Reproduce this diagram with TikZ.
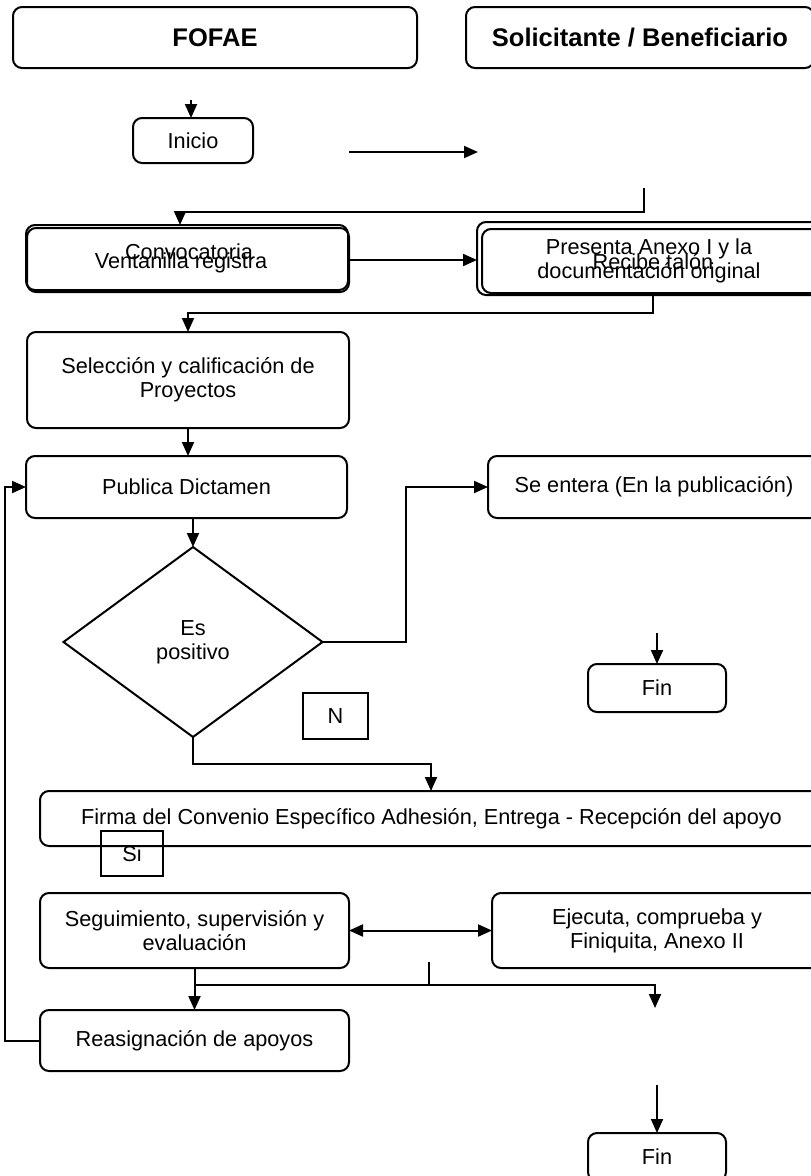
\documentclass[tikz,border=0pt]{standalone}
\usepackage{fontspec}
\setmainfont{Liberation Sans}
\usetikzlibrary{arrows.meta,shapes.geometric}

\newcommand\flowFont{\fontsize{21.7}{24}\selectfont}
\newcommand\laneFont{\fontsize{25.5}{29}\selectfont\bfseries}

\tikzset{
    >={Triangle[length=14pt,width=12pt]},
    box/.style={draw, line width=2pt, rounded corners=9pt, align=center,
        inner sep=0pt, outer sep=0pt, font=\flowFont},
    lane/.style={box, font=\laneFont},
    tag/.style={draw, line width=1.7pt, inner sep=0pt, outer sep=0pt, font=\flowFont},
    txt/.style={inner sep=0pt, align=center, font=\flowFont},
    flow/.style={line width=2pt, ->},
    link/.style={line width=2pt}
}

\begin{document}
\begin{tikzpicture}[x=1pt, y=-1pt]
    \clip (0,0) rectangle (811,1176);

    % Lane headers
    \node[lane, minimum width=404, minimum height=61] (fofae) at (215,37.5) {FOFAE};
    \node[lane, minimum width=348, minimum height=61] (solic) at (640,37.5) {Solicitante / Beneficiario};

    % Start
    \node[box, minimum width=120, minimum height=45] (inicio) at (193,140.5) {Inicio};
    \coordinate (inicioIn) at (191,100);
    \draw[flow] (inicioIn) -- (inicioIn |- inicio.north);

    \coordinate (freeA) at (349,152);
    \coordinate (freeB) at (478,152);
    \draw[flow] (freeA) -- (freeB);

    % Convocatoria / Ventanilla registra (two boxes on top of each other)
    \node[box, minimum width=322, minimum height=65] (convA) at (187,257.5) {};
    \node[box, minimum width=322, minimum height=64] (convB) at (188,260) {};
    \node[txt] (convText) at (189,252) {Convocatoria};
    \node[txt] (ventText) at (181,263) {Ventanilla registra};

    % Presenta Anexo I / Recibe talon (two boxes on top of each other)
    \node[box, minimum width=344, minimum height=73] (presA) at (649,258.5) {};
    \node[box, minimum width=339, minimum height=64] (presB) at (651.5,261) {};
    \node[txt] (presText) at (649,261) {Presenta Anexo I y la\\documentación original};
    \node[txt] (talonText) at (653,262) {Recibe talón};

    \coordinate (solStub) at (644,188);
    \coordinate (joinA) at (180,212);
    \draw[flow] (solStub) |- (joinA) -- (joinA |- convA.north);
    \draw[flow] (convB.east) -- (convB.east -| presA.west);

    % Seleccion y Publica
    \node[box, minimum width=322, minimum height=96] (selec) at (188,380) {Selección y calificación de\\Proyectos};
    \node[box, minimum width=321, minimum height=62] (publica) at (186.5,487) {Publica Dictamen};
    \node[box, minimum width=332, minimum height=62] (entera) at (654,487) {Se entera (En la publicación)};

    \coordinate (joinB) at (188,313);
    \draw[flow] ([xshift=1.5pt]presB.south) |- (joinB) -- (selec.north);
    \draw[flow] (selec.south) -- (selec.south |- publica.north);

    % Decision
    \node[diamond, draw, line width=2pt, inner sep=0pt, outer sep=0pt, align=center,
        font=\flowFont, minimum width=259, minimum height=190] (diam) at (193,642) {Es\\positivo};
    \draw[flow] (publica.south -| diam.north) -- (diam.north);
    \draw[flow] (diam.east) -- ++(83,0) |- (entera.west);

    \node[box, minimum width=138, minimum height=48] (fin1) at (657,688) {Fin};
    \coordinate (finIn) at (657,633);
    \draw[flow] (finIn) -- (fin1.north);

    \node[tag, minimum width=65, minimum height=46] (tagN) at (335.5,716) {N};

    % Firma del convenio
    \node[box, minimum width=783, minimum height=55] (firma) at (431.5,818.5) {Firma del Convenio Específico Adhesión, Entrega - Recepción del apoyo};
    \node[tag, minimum width=62, minimum height=45] (tagSi) at (132,853.5) {Si};
    \coordinate (firmaTop) at ([xshift=-0.5pt]firma.north);
    \draw[flow] (diam.south) -- ++(0,27) -| (firmaTop);

    % Seguimiento y Ejecuta
    \node[box, minimum width=309, minimum height=75] (segui) at (194.5,930.5) {Seguimiento, supervisión y\\evaluación};
    \node[box, minimum width=330, minimum height=75] (ejec) at (657,930.5) {Ejecuta, comprueba y\\Finiquita, Anexo II};
    \draw[flow, <->] (segui.east) -- (ejec.west);

    % Reasignacion
    \node[box, minimum width=309, minimum height=61] (reasig) at (194.5,1040.5) {Reasignación de apoyos};
    \draw[flow] (segui.south) -- (reasig.north);

    \coordinate (splitL) at (194.5,985);
    \coordinate (splitR) at (655,1008);
    \draw[flow] (splitL) -| (splitR);
    \coordinate (tickTop) at (429,962);
    \draw[link] (tickTop) -- (tickTop |- splitL);

    % Back to Publica Dictamen
    \draw[flow] (reasig.west) -- ++(-35,0) |- (publica.west);

    % End
    \node[box, minimum width=138, minimum height=48] (fin2) at (657,1157) {Fin};
    \coordinate (fin2In) at (657,1085);
    \draw[flow] (fin2In) -- (fin2.north);

\end{tikzpicture}
\end{document}
